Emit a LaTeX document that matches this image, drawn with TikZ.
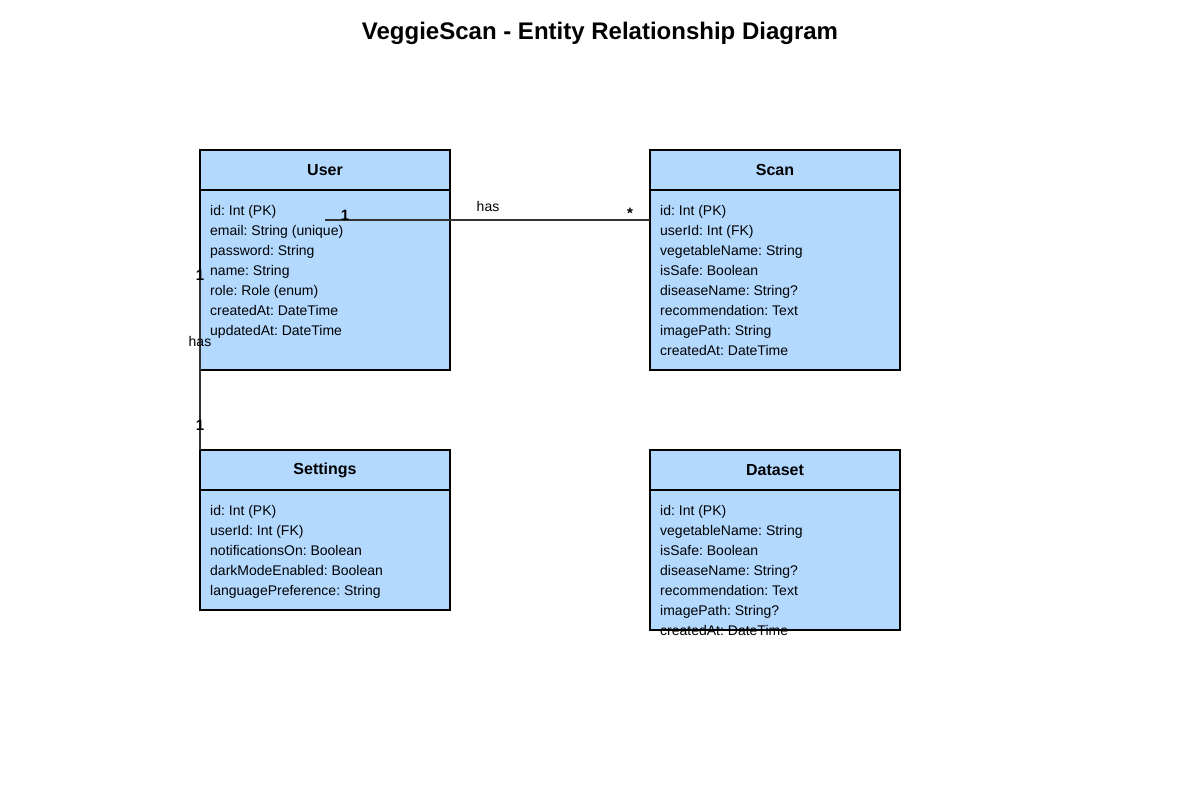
\documentclass[tikz,border=0pt]{standalone}
\usepackage{fontspec}
\setmainfont{Liberation Sans}
\usetikzlibrary{positioning}
\definecolor{entityfill}{RGB}{179,217,255}
\definecolor{relgray}{RGB}{51,51,51}
\frenchspacing

\begin{document}
\begin{tikzpicture}[
    x=1pt, y=-1pt,
    entityhead/.style={rectangle, draw=black, line width=2pt, fill=entityfill, minimum width=250pt, minimum height=40pt, inner sep=0pt, outer sep=0pt, font=\fontsize{16}{19}\selectfont\bfseries},
    entitybody/.style={rectangle, draw=black, line width=2pt, fill=entityfill, minimum width=250pt, inner sep=0pt, outer sep=0pt},
    attr/.style={anchor=west, inner sep=0pt, text height=9pt, text depth=3pt, font=\fontsize{14}{17}\selectfont},
    relation/.style={draw=relgray, line width=1.5pt},
    mult/.style={inner sep=0pt, font=\fontsize{15}{18}\selectfont\bfseries},
    rellabel/.style={inner sep=0pt, font=\fontsize{14}{17}\selectfont}
]
\useasboundingbox (0,0) rectangle (1200,800);

% Title
\node[font=\fontsize{24}{28}\selectfont\bfseries] (title) at (600,33) {VeggieScan - Entity Relationship Diagram};

% User
\node[entityhead] (userhead) at (325,170) {User};
\node[entitybody, minimum height=180pt, below=0pt of userhead] (userbody) {};
\foreach \a [count=\i] in {id: Int (PK), email: String (unique), password: String, name: String, role: Role (enum), createdAt: DateTime, updatedAt: DateTime}
    \node[attr] (user-\i) at (210,192+20*\i) {\a};

% Scan
\node[entityhead] (scanhead) at (775,170) {Scan};
\node[entitybody, minimum height=180pt, below=0pt of scanhead] (scanbody) {};
\foreach \a [count=\i] in {id: Int (PK), userId: Int (FK), vegetableName: String, isSafe: Boolean, diseaseName: String?, recommendation: Text, imagePath: String, createdAt: DateTime}
    \node[attr] (scan-\i) at (660,192+20*\i) {\a};

% Settings
\node[entityhead] (settingshead) at (325,470) {Settings};
\node[entitybody, minimum height=120pt, below=0pt of settingshead] (settingsbody) {};
\foreach \a [count=\i] in {id: Int (PK), userId: Int (FK), notificationsOn: Boolean, darkModeEnabled: Boolean, languagePreference: String}
    \node[attr] (settings-\i) at (210,492+20*\i) {\a};

% Dataset
\node[entityhead] (datasethead) at (775,470) {Dataset};
\node[entitybody, minimum height=140pt, below=0pt of datasethead] (datasetbody) {};
\foreach \a [count=\i] in {id: Int (PK), vegetableName: String, isSafe: Boolean, diseaseName: String?, recommendation: Text, imagePath: String?, createdAt: DateTime}
    \node[attr] (dataset-\i) at (660,492+20*\i) {\a};

% Relations
\coordinate (userhasscan) at (325,220);
\coordinate (userhassettings) at (200,270);
\draw[relation] (userhasscan) -- (scanbody.west |- userhasscan);
\draw[relation] (userhassettings) -- (settingshead.north west);

% Labels
\node[mult] (m1) at (345,215) {1};
\node[rellabel] (l1) at (488,206) {has};
\node[mult] (m2) at (630,213) {*};
\node[mult] (m3) at (200,275) {1};
\node[rellabel] (l2) at (200,341) {has};
\node[mult] (m4) at (200,425) {1};

\end{tikzpicture}
\end{document}
